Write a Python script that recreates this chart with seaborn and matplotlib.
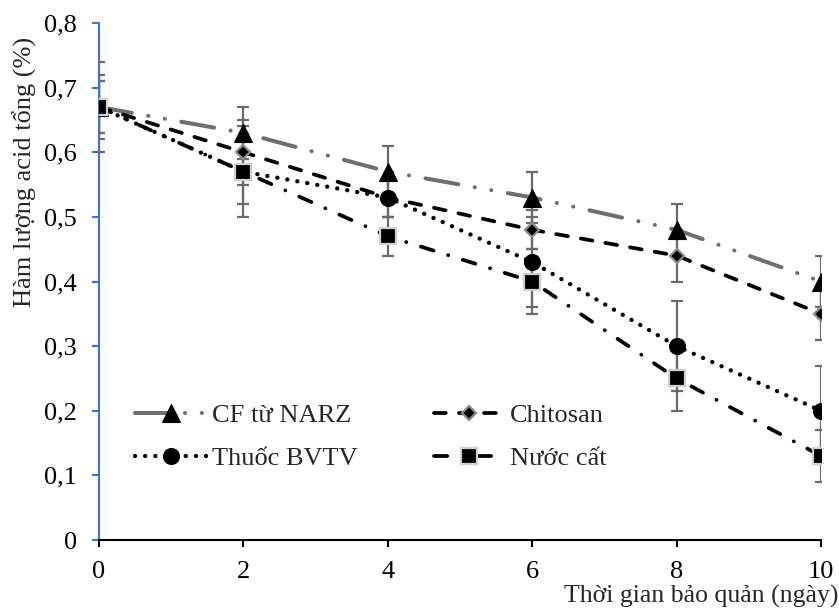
import matplotlib
matplotlib.use('Agg')
import matplotlib.pyplot as plt
import seaborn as sns
from matplotlib.ticker import FuncFormatter

# ---- data ----
days = [0, 2, 4, 6, 8, 10]
series_names = ['CF từ NARZ', 'Chitosan', 'Thuốc BVTV', 'Nước cất']
cf_vals = [0.67, 0.63, 0.57, 0.53, 0.48, 0.40]
cf_err = [0.04, 0.04, 0.04, 0.04, 0.04, 0.04]
chitosan_vals = [0.67, 0.60, 0.53, 0.48, 0.44, 0.35]
chitosan_err = [0.05, 0.05, 0.03, 0.03, 0.04, 0.04]
thuoc_vals = [0.67, 0.57, 0.53, 0.43, 0.30, 0.20]
thuoc_err = [0.07, 0.05, 0.03, 0.07, 0.07, 0.07]
nuoc_vals = [0.67, 0.57, 0.47, 0.40, 0.25, 0.13]
nuoc_err = [0.04, 0.07, 0.03, 0.05, 0.05, 0.04]
y_ticks = [0, 0.1, 0.2, 0.3, 0.4, 0.5, 0.6, 0.7, 0.8]
x_ticks = [0, 2, 4, 6, 8, 10]
x_label = 'Thời gian bảo quản (ngày)'
y_label = 'Hàm lượng acid tổng (%)'

sns.set_style('ticks')
plt.rcParams['font.family'] = ['Liberation Serif', 'DejaVu Serif']
plt.rcParams['lines.scale_dashes'] = False
FS = 19

fig = plt.figure(figsize=(8.39, 6.09), dpi=100)
ax = fig.add_axes([0.118, 0.1133, 0.8606, 0.8489])

styles = [
    dict(color='#6e6e6e', linewidth=2.9, linestyle=(0, (24, 12, 0.1, 12, 0.1, 12)),
         marker='^', markersize=12.5, markerfacecolor='black', markeredgecolor='black',
         markeredgewidth=0.8),
    dict(color='black', linewidth=2.7, linestyle=(0, (8.5, 9.5)),
         marker='D', markersize=7.5, markerfacecolor='black', markeredgecolor='#8a8a8a',
         markeredgewidth=1.6),
    dict(color='black', linewidth=3.1, linestyle=(0, (0.1, 7.2)),
         marker='o', markersize=11.5, markerfacecolor='black', markeredgecolor='black',
         markeredgewidth=0.8),
    dict(color='black', linewidth=2.7, linestyle=(0, (9.5, 11, 0.1, 11)),
         marker='s', markersize=11, markerfacecolor='black', markeredgecolor='#d0d0d0',
         markeredgewidth=1.6),
]
values = [cf_vals, chitosan_vals, thuoc_vals, nuoc_vals]
errors = [cf_err, chitosan_err, thuoc_err, nuoc_err]

for vals, err in zip(values, errors):
    ax.errorbar(days, vals, yerr=err, fmt='none', ecolor='#6b6b6b', elinewidth=1.6,
                capsize=4.5, capthick=1.6, zorder=2)

handles = []
for name, vals, st in zip(series_names, values, styles):
    sns.lineplot(x=days, y=vals, ax=ax, label=name, dash_capstyle='round',
                 solid_capstyle='round', zorder=3, **st)
    handles.append(ax.lines[-1])

ax.set_xlim(0, 10)
ax.set_ylim(0, 0.8)
ax.set_xticks(x_ticks)
ax.set_yticks(y_ticks)
ax.yaxis.set_major_formatter(FuncFormatter(lambda v, p: ('%g' % round(v, 1)).replace('.', ',')))
ax.set_xlabel('')
ax.set_ylabel('')

for s in ['top', 'right']:
    ax.spines[s].set_visible(False)
ax.spines['left'].set_color('#4472C4')
ax.spines['left'].set_linewidth(1.5)
ax.spines['bottom'].set_color('black')
ax.spines['bottom'].set_linewidth(1.5)
ax.tick_params(axis='y', colors='#4472C4', labelcolor='black', length=5, width=1.5,
               direction='out', labelsize=FS, pad=11)
ax.tick_params(axis='x', colors='black', labelcolor='black', length=5, width=1.5,
               direction='out', labelsize=FS, pad=10)

order = [0, 2, 1, 3]
ax.legend([handles[i] for i in order], [series_names[i] for i in order], ncol=2,
          frameon=False, loc='center left', bbox_to_anchor=(0.05, 0.199),
          borderpad=0, borderaxespad=0, handlelength=2.7, handletextpad=0.2,
          columnspacing=2.9, labelspacing=0.75, fontsize=FS)

fig.text(0.999, 1.5 / 609, x_label, ha='right', va='bottom', fontsize=FS - 0.5)
fig.text(25 / 839, 1 - 172 / 609, y_label, ha='center', va='center', rotation=90, fontsize=FS)

fig.savefig('out.png', dpi=100)
